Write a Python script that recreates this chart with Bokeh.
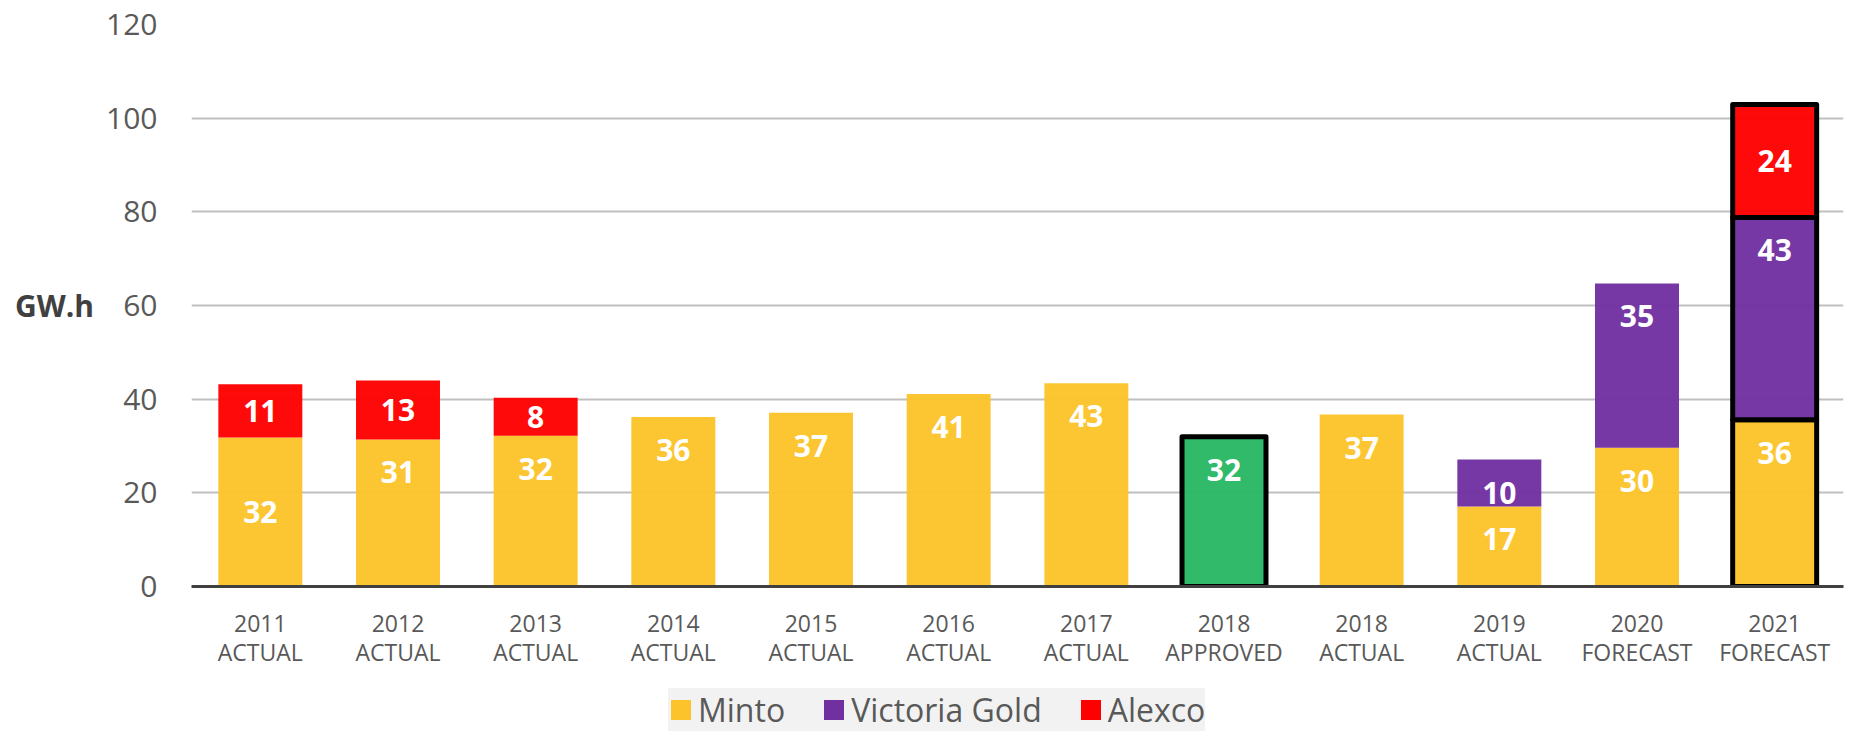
from bokeh.plotting import figure
from bokeh.layouts import column
from bokeh.models import FactorRange, Range1d, FixedTicker, Legend, LegendItem, ColumnDataSource
from bokeh.core.properties import value
from bokeh.embed import file_html
from bokeh.resources import INLINE

# ---- data ----
categories = ["2011\nACTUAL", "2012\nACTUAL", "2013\nACTUAL", "2014\nACTUAL", "2015\nACTUAL",
              "2016\nACTUAL", "2017\nACTUAL", "2018\nAPPROVED", "2018\nACTUAL", "2019\nACTUAL",
              "2020\nFORECAST", "2021\nFORECAST"]
minto = [31.8, 31.4, 32.2, 36.2, 37.1, 41.1, 43.4, 0, 36.7, 17.1, 29.6, 35.6]
victoria_gold = [0, 0, 0, 0, 0, 0, 0, 0, 0, 10.0, 35.1, 43.2]
alexco = [11.4, 12.6, 8.1, 0, 0, 0, 0, 0, 0, 0, 0, 24.1]
approved = [0, 0, 0, 0, 0, 0, 0, 32.0, 0, 0, 0, 0]
series_names = ["Minto", "Victoria Gold", "Alexco"]
y_ticks = [0, 20, 40, 60, 80, 100, 120]

# ---- styles ----
outlined = [False] * 7 + [True] + [False] * 3 + [True]
minto_label_mode = ["center"] + ["end"] * 11
C_MINTO, C_VG, C_ALEX, C_APP = "#FCC42A", "#7030A0", "#FF0000", "#28B764"
TXT = "#595959"
FONT = "Open Sans"
BAR_W = 0.61
W = 1845

p = figure(x_range=FactorRange(*categories), y_range=Range1d(0, 120),
           width=W, height=682, output_backend="svg", toolbar_location=None,
           min_border_left=191, min_border_right=2, min_border_top=24, min_border_bottom=96)
p.outline_line_color = None
p.background_fill_color = "white"
p.border_fill_color = "white"

p.xgrid.grid_line_color = None
p.ygrid.grid_line_color = "#BFBFBF"
p.ygrid.grid_line_width = 2
p.yaxis.ticker = FixedTicker(ticks=y_ticks)

# y axis
p.yaxis.axis_line_color = None
p.yaxis.major_tick_line_color = None
p.yaxis.minor_tick_line_color = None
p.yaxis.major_tick_out = 0
p.yaxis.major_label_standoff = 34
p.yaxis.major_label_text_font = FONT
p.yaxis.major_label_text_font_size = "30px"
p.yaxis.major_label_text_color = TXT
p.yaxis.axis_label = "GW.h"
p.yaxis.axis_label_orientation = "horizontal"
p.yaxis.axis_label_text_font = FONT
p.yaxis.axis_label_text_font_style = "bold"
p.yaxis.axis_label_text_font_size = "30px"
p.yaxis.axis_label_text_color = "#404040"
p.yaxis.axis_label_standoff = 9

# x axis
p.xaxis.axis_line_color = "#404040"
p.xaxis.axis_line_width = 3
p.xaxis.major_tick_line_color = None
p.xaxis.minor_tick_line_color = None
p.xaxis.major_tick_out = 0
p.xaxis.major_label_standoff = 20
p.xaxis.major_label_text_font = FONT
p.xaxis.major_label_text_font_size = "23px"
p.xaxis.major_label_text_color = TXT
p.xaxis.major_label_text_line_height = 0.92


def segment_source(vals, bottoms):
    tops = [b + v for b, v in zip(bottoms, vals)]
    la = [1.0 if (o and v > 0) else 0.0 for o, v in zip(outlined, vals)]
    return ColumnDataSource(dict(x=categories, bottom=bottoms, top=tops, la=la))


zero = [0] * len(categories)
b_vg = list(minto)
b_alex = [m + v for m, v in zip(minto, victoria_gold)]

for name, vals, bottoms, color in [("Minto", minto, zero, C_MINTO),
                                    ("Victoria Gold", victoria_gold, b_vg, C_VG),
                                    ("Alexco", alexco, b_alex, C_ALEX),
                                    ("Approved", approved, zero, C_APP)]:
    src = segment_source(vals, bottoms)
    p.vbar(x="x", bottom="bottom", top="top", width=BAR_W, source=src,
           fill_color=color, fill_alpha=0.96,
           line_color="black", line_width=5, line_alpha="la", line_join="round")

# value labels
lx, ly, lt, lo = [], [], [], []
for vals, bottoms, modes in [(minto, zero, minto_label_mode),
                             (victoria_gold, b_vg, ["end"] * len(categories)),
                             (alexco, b_alex, ["center"] * len(categories)),
                             (approved, zero, ["end"] * len(categories))]:
    for c, v, b, m in zip(categories, vals, bottoms, modes):
        if v <= 0:
            continue
        lx.append(c)
        lt.append(str(int(round(v))))
        if m == "center":
            ly.append(b + v / 2.0)
            lo.append(0)
        else:
            ly.append(b + v)
            lo.append(33)
p.text(x="x", y="y", text="t", y_offset="o",
       source=ColumnDataSource(dict(x=lx, y=ly, t=lt, o=lo)),
       text_color="white", text_font=value(FONT), text_font_style="bold",
       text_font_size="30px", text_align="center", text_baseline="middle")

# ---- legend strip (separate figure below the chart) ----
lg = figure(width=W, height=49, x_range=Range1d(0, 1), y_range=Range1d(0, 1),
            output_backend="svg", toolbar_location=None,
            x_axis_type=None, y_axis_type=None,
            min_border_left=0, min_border_right=0, min_border_top=0, min_border_bottom=0)
lg.outline_line_color = None
lg.grid.grid_line_color = None
lg.background_fill_color = "white"
lg.border_fill_color = "white"
items = []
for name, color in zip(series_names, [C_MINTO, C_VG, C_ALEX]):
    r = lg.vbar(x=[0.5], bottom=[0], top=[0], width=0, fill_color=color, line_color=None)
    items.append(LegendItem(label=name, renderers=[r]))
legend = Legend(items=items, orientation="horizontal", location=(477, 0), margin=0, padding=6,
                spacing=36, glyph_width=25, glyph_height=25, label_standoff=5,
                label_text_font=FONT, label_text_font_size="32px", label_text_color=TXT,
                background_fill_color="#F2F2F2", background_fill_alpha=1.0,
                border_line_color=None)
lg.add_layout(legend)

layout = column(p, lg, spacing=0)
open("out.html", "w").write(file_html(layout, INLINE))
